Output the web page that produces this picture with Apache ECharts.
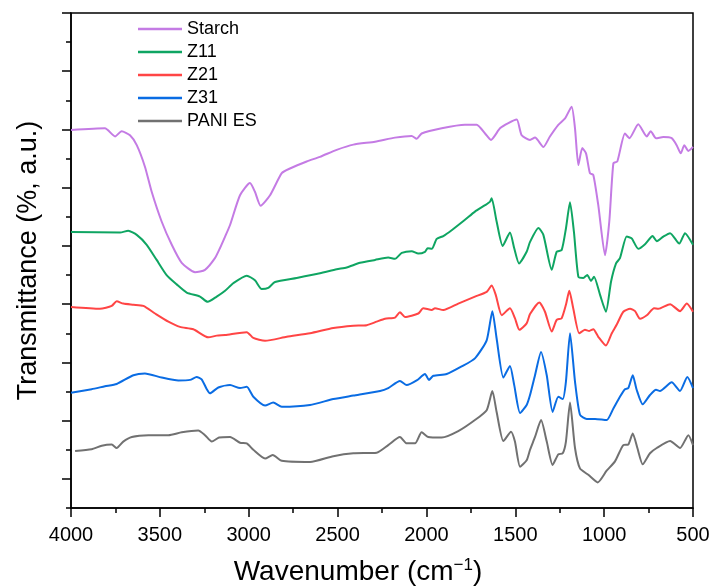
<!DOCTYPE html>
<html>
<head>
<meta charset="utf-8">
<script src="https://cdn.jsdelivr.net/npm/echarts@6/dist/echarts.min.js"></script>
<style>
  html, body { margin: 0; padding: 0; background: #fff; }
  #chart { width: 713px; height: 586px; }
</style>
</head>
<body>
<div id="chart"></div>
<script>
// FTIR spectra: [wavenumber (cm-1), transmittance (offset, a.u.)]
const starch = [[4000,64.9],[3809,65.2],[3752,63.8],[3715,64.7],[3668,64.0],[3630,62.3],[3584,58.6],[3546,54.3],[3490,49.2],[3433,45.2],[3377,42.1],[3302,40.5],[3246,40.9],[3190,42.9],[3162,44.6],[3133,46.6],[3105,48.6],[3049,53.7],[2993,55.8],[2965,54.3],[2933,51.9],[2880,53.7],[2814,57.5],[2768,58.3],[2674,59.5],[2599,60.3],[2505,61.5],[2411,62.4],[2289,62.9],[2177,63.6],[2083,63.9],[2055,63.4],[2027,64.3],[1914,65.2],[1783,65.8],[1717,65.8],[1670,64.3],[1637,63.2],[1586,65.2],[1539,66.1],[1492,66.7],[1464,64.0],[1417,63.2],[1389,63.6],[1342,62.0],[1305,63.8],[1258,65.8],[1220,66.9],[1183,68.9],[1164,65.2],[1145,58.9],[1123,61.8],[1102,60.9],[1080,57.5],[1061,57.2],[1033,52.0],[995,43.4],[971,49.2],[948,59.2],[926,59.5],[883,64.3],[858,63.5],[808,65.9],[760,63.8],[738,64.7],[708,63.5],[667,63.7],[620,63.5],[592,62.3],[569,60.9],[549,62.3],[526,61.3],[500,62.0]];

const z11 = [[4000,47.4],[3724,47.3],[3678,47.6],[3630,46.9],[3574,45.2],[3518,42.6],[3462,40.0],[3405,38.4],[3349,37.0],[3274,36.3],[3231,35.4],[3180,36.3],[3133,37.3],[3087,38.6],[3011,39.9],[2965,39.1],[2927,37.6],[2890,37.8],[2852,38.8],[2730,39.5],[2599,40.3],[2505,41.0],[2449,41.3],[2374,42.1],[2289,42.6],[2215,43.0],[2177,42.8],[2139,43.8],[2083,44.1],[2046,43.7],[2008,44.0],[1993,44.6],[1970,44.5],[1942,46.2],[1905,46.7],[1858,47.7],[1783,49.5],[1727,50.9],[1670,52.0],[1642,52.6],[1633,53.2],[1605,49.2],[1571,45.0],[1530,47.3],[1506,44.6],[1479,42.0],[1436,44.0],[1417,45.7],[1370,48.1],[1342,46.9],[1295,40.9],[1267,44.0],[1239,44.3],[1215,48.0],[1192,52.5],[1170,47.4],[1145,39.7],[1117,39.5],[1095,40.0],[1074,39.0],[1057,39.7],[1023,36.6],[990,33.7],[961,38.9],[933,42.0],[911,42.9],[873,46.6],[845,46.3],[808,44.5],[770,45.3],[727,46.7],[704,45.8],[667,46.6],[629,47.2],[577,45.4],[545,47.2],[500,45.2]];

const z21 = [[4000,34.5],[3837,34.2],[3771,34.7],[3743,35.5],[3706,35.1],[3649,34.9],[3593,34.7],[3527,33.4],[3452,32.0],[3387,31.1],[3312,30.7],[3227,29.3],[3180,29.6],[3133,29.7],[3011,30.2],[2974,29.2],[2908,28.7],[2786,29.4],[2655,30.0],[2524,30.9],[2411,31.3],[2336,31.4],[2280,32.0],[2233,32.5],[2177,32.7],[2149,33.6],[2121,32.8],[2046,33.4],[2018,34.3],[1970,34.0],[1952,34.3],[1905,34.0],[1821,35.1],[1727,36.3],[1661,37.1],[1633,38.2],[1610,36.6],[1576,33.1],[1530,34.3],[1502,32.6],[1477,30.6],[1436,31.7],[1417,33.3],[1365,35.3],[1333,33.7],[1295,30.3],[1267,32.3],[1239,32.6],[1215,34.9],[1196,37.3],[1174,34.3],[1140,30.0],[1108,30.6],[1084,30.4],[1061,30.7],[1033,29.4],[990,27.9],[957,30.0],[929,31.5],[892,33.7],[854,34.2],[826,33.8],[798,32.5],[760,33.1],[719,34.3],[695,34.2],[629,35.0],[573,33.8],[535,35.1],[500,33.7]];

const z31 = [[4000,19.8],[3884,20.4],[3809,20.9],[3743,21.3],[3649,22.8],[3584,23.1],[3490,22.4],[3396,21.9],[3330,22.0],[3293,22.5],[3265,22.1],[3236,20.4],[3218,19.7],[3171,20.7],[3105,21.1],[3049,20.6],[3011,20.8],[2974,19.1],[2908,17.6],[2862,18.1],[2814,17.4],[2655,17.7],[2524,18.7],[2411,19.3],[2261,20.1],[2215,20.6],[2149,21.8],[2111,21.1],[2055,21.9],[2008,23.0],[1986,22.0],[1961,22.7],[1886,23.0],[1802,24.3],[1727,25.7],[1661,28.8],[1629,33.8],[1605,29.1],[1567,22.4],[1530,24.4],[1506,21.1],[1473,16.3],[1436,17.7],[1417,19.4],[1389,22.8],[1355,26.8],[1323,22.8],[1290,16.5],[1258,19.1],[1233,18.7],[1215,21.7],[1192,30.0],[1164,21.7],[1136,16.0],[1098,15.3],[1051,15.3],[986,15.1],[948,17.1],[911,19.1],[883,20.4],[864,20.6],[839,22.8],[817,20.3],[783,17.8],[742,19.4],[708,20.3],[686,20.1],[620,21.6],[573,20.1],[532,22.5],[500,20.6]];

const paniES = [[3977,9.8],[3884,10.1],[3827,10.7],[3771,10.9],[3743,10.3],[3706,11.4],[3658,12.2],[3565,12.5],[3452,12.5],[3377,13.0],[3284,13.3],[3246,12.5],[3208,11.4],[3167,12.1],[3105,12.2],[3049,11.2],[3011,11.1],[2974,10.0],[2908,8.5],[2865,9.1],[2814,8.1],[2655,7.9],[2524,8.9],[2411,9.4],[2280,9.5],[2215,10.8],[2149,12.2],[2111,11.1],[2064,11.1],[2027,13.0],[1990,12.2],[1914,12.1],[1821,13.2],[1727,15.1],[1661,16.8],[1629,20.1],[1605,16.5],[1567,11.5],[1524,13.1],[1502,11.4],[1473,7.1],[1436,8.2],[1417,10.0],[1389,12.2],[1355,15.1],[1323,11.4],[1290,7.4],[1258,9.2],[1233,9.4],[1215,11.4],[1192,18.1],[1164,10.3],[1136,6.8],[1089,5.7],[1036,4.4],[986,6.4],[939,8.0],[892,10.8],[864,10.9],[839,12.8],[813,10.3],[783,7.5],[742,9.4],[704,10.3],[629,11.5],[573,10.3],[526,12.5],[500,10.8]];

const seriesNames = ['Starch', 'Z11', 'Z21', 'Z31', 'PANI ES'];
const seriesData = [starch, z11, z21, z31, paniES];
const seriesColors = ['#C47BE4', '#0FA562', '#FF4545', '#0A6CE3', '#717171'];

// y-axis tick positions (no labels on this axis)
const yMajorTicks = [5, 15, 25, 35, 45, 55, 65, 75, 85];
const yMinorTicks = [0, 10, 20, 30, 40, 50, 60, 70, 80];

const FONT = '"Liberation Sans", Arial, Helvetica, sans-serif';

const chart = echarts.init(document.getElementById('chart'), null, { renderer: 'canvas' });

const yBase = {
  type: 'value', min: 0, max: 85, position: 'left',
  splitLine: { show: false },
  axisLabel: { show: false }
};

chart.setOption({
  animation: false,
  backgroundColor: '#fff',
  textStyle: { fontFamily: FONT },
  grid: {
    left: 71, right: 20, top: 13, bottom: 78,
    outerBoundsMode: 'none',
    containLabel: false,
    show: true, borderColor: '#000', borderWidth: 1.5
  },
  legend: {
    orient: 'vertical', left: 138, top: 20, padding: 0,
    icon: 'rect',
    itemWidth: 44, itemHeight: 2.5, itemGap: 5,
    textStyle: { fontFamily: FONT, fontSize: 18, color: '#000' },
    data: seriesNames
  },
  xAxis: {
    type: 'value', min: 500, max: 4000, interval: 500, inverse: true,
    name: 'Wavenumber (cm{sup|\u22121})',
    nameLocation: 'middle', nameGap: 49,
    nameTextStyle: {
      fontFamily: FONT, fontSize: 28, color: '#000', lineHeight: 30,
      padding: [0, 48, 0, 0],
      rich: { sup: { fontFamily: FONT, fontSize: 17, color: '#000', verticalAlign: 'top', lineHeight: 18 } }
    },
    axisLine: { lineStyle: { color: '#000', width: 1.5 } },
    axisTick: { length: 9, lineStyle: { color: '#000', width: 1.5 } },
    minorTick: { show: true, splitNumber: 2, length: 5, lineStyle: { color: '#000', width: 1.5 } },
    axisLabel: {
      fontFamily: FONT, fontSize: 20, color: '#000', margin: 17,
      formatter: v => String(v)
    },
    splitLine: { show: false }
  },
  yAxis: [
    Object.assign({}, yBase, {
      name: 'Transmittance (%, a.u.)',
      nameLocation: 'middle', nameGap: 29,
      nameTextStyle: { fontFamily: FONT, fontSize: 27, color: '#000' },
      axisLine: { show: true, lineStyle: { color: '#000', width: 1.5 } },
      axisTick: { show: true, length: 9, customValues: yMajorTicks, lineStyle: { color: '#000', width: 1.5 } }
    }),
    Object.assign({}, yBase, {
      axisLine: { show: false },
      axisTick: { show: true, length: 5, customValues: yMinorTicks, lineStyle: { color: '#000', width: 1.5 } }
    })
  ],
  series: seriesNames.map((name, i) => ({
    name: name,
    type: 'line',
    yAxisIndex: 0,
    data: seriesData[i],
    symbol: 'none',
    smooth: 0.2,
    color: seriesColors[i],
    lineStyle: { width: 2, color: seriesColors[i] }
  }))
});
</script>
</body>
</html>
